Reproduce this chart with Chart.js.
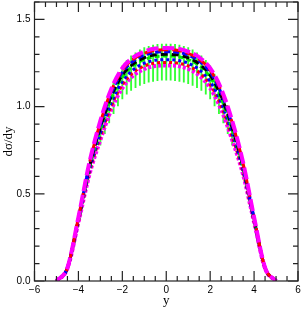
<!DOCTYPE html>
<html><head><meta charset="utf-8">
<script src="https://cdn.jsdelivr.net/npm/chart.js@4/dist/chart.umd.min.js"></script>
<style>html,body{margin:0;padding:0;background:#fff}#w{width:303px;height:309px}</style>
</head><body><div id="w"><canvas id="c" width="303" height="309"></canvas></div>
<script>
const xs = [-5,-4.5,-4,-3.5,-3,-2.5,-2,-1.5,-1,-0.5,0,0.5,1,1.5,2,2.5,3,3.5,4,4.5,5];
const magentaLongDash = [0,0.077,0.366,0.680,0.920,1.103,1.221,1.283,1.316,1.333,1.336,1.333,1.316,1.283,1.221,1.103,0.920,0.680,0.366,0.077,0];
const redLongDash     = [0,0.076,0.363,0.673,0.909,1.091,1.210,1.272,1.306,1.323,1.326,1.323,1.306,1.272,1.210,1.091,0.909,0.673,0.363,0.076,0];
const blueDash        = [0,0.076,0.360,0.666,0.897,1.078,1.197,1.261,1.295,1.312,1.315,1.312,1.295,1.261,1.197,1.078,0.897,0.666,0.360,0.076,0];
const blackDash       = [0,0.075,0.355,0.655,0.880,1.060,1.180,1.245,1.280,1.297,1.300,1.297,1.280,1.245,1.180,1.060,0.880,0.655,0.355,0.075,0];
const greenDash       = [0,0.075,0.352,0.648,0.869,1.048,1.169,1.235,1.270,1.287,1.290,1.287,1.270,1.235,1.169,1.048,0.869,0.648,0.352,0.075,0];
const blueDot         = [0,0.074,0.346,0.633,0.846,1.023,1.144,1.212,1.249,1.266,1.269,1.266,1.249,1.212,1.144,1.023,0.846,0.633,0.346,0.074,0];
const redDot          = [0,0.073,0.341,0.622,0.828,1.004,1.126,1.196,1.233,1.250,1.253,1.250,1.233,1.196,1.126,1.004,0.828,0.622,0.341,0.073,0];
const magentaDot      = [0,0.072,0.336,0.610,0.810,0.983,1.106,1.178,1.216,1.233,1.236,1.233,1.216,1.178,1.106,0.983,0.810,0.610,0.336,0.072,0];

const dataX   = [-3.0,-2.8,-2.6,-2.4,-2.2,-2.0,-1.8,-1.6,-1.4,-1.2,-1.0,-0.8,-0.6,-0.4,-0.2,0,0.2,0.4,0.6,0.8,1.0,1.2,1.4,1.6,1.8,2.0,2.2,2.4,2.6,2.8,3.0];
const dataY   = [0.849,0.922,0.989,1.047,1.095,1.139,1.168,1.192,1.209,1.223,1.235,1.243,1.249,1.253,1.255,1.255,1.255,1.253,1.249,1.243,1.235,1.223,1.209,1.192,1.168,1.139,1.095,1.047,0.989,0.922,0.849];
const dataErr = [0.070,0.077,0.082,0.087,0.091,0.095,0.097,0.099,0.100,0.102,0.103,0.103,0.104,0.104,0.104,0.104,0.104,0.104,0.104,0.103,0.103,0.102,0.100,0.099,0.097,0.095,0.091,0.087,0.082,0.077,0.070];

const xMajor = [-6,-4,-2,0,2,4,6];
const xMinor = [-5.5,-5,-4.5,-3.5,-3,-2.5,-1.5,-1,-0.5,0.5,1,1.5,2.5,3,3.5,4.5,5,5.5];
const yMajor = [0,0.5,1.0,1.5];
const yMinor = [0.1,0.2,0.3,0.4,0.6,0.7,0.8,0.9,1.1,1.2,1.3,1.4,1.6];

function line(vals, color, width, dash){
  return {type:'line', data: xs.map((x,i)=>({x:x,y:vals[i]})), borderColor:color, borderWidth:width,
    borderDash:dash, pointRadius:0, fill:false, cubicInterpolationMode:'monotone', order:1};
}

const framePlugin = {
  id:'frame',
  afterDatasetsDraw(chart){
    const {ctx, chartArea:a, scales:{x,y}} = chart;
    ctx.save();
    ctx.strokeStyle = '#222'; ctx.lineWidth = 1.2;
    ctx.strokeRect(a.left, a.top, a.right-a.left, a.bottom-a.top);
    ctx.beginPath();
    const tx = (v,len)=>{const p=x.getPixelForValue(v); ctx.moveTo(p,a.bottom); ctx.lineTo(p,a.bottom-len); ctx.moveTo(p,a.top); ctx.lineTo(p,a.top+len);};
    const ty = (v,len)=>{const p=y.getPixelForValue(v); ctx.moveTo(a.left,p); ctx.lineTo(a.left+len,p); ctx.moveTo(a.right,p); ctx.lineTo(a.right-len,p);};
    xMajor.forEach(v=>tx(v,10)); xMinor.forEach(v=>tx(v,5));
    yMajor.forEach(v=>ty(v,10)); yMinor.forEach(v=>ty(v,5));
    ctx.stroke();
    ctx.restore();
  }
};

new Chart(document.getElementById('c'), {
  type:'line',
  data:{datasets:[
    line(magentaLongDash,'#ff00ff',4,[12,4]),
    line(redLongDash,'#ff0000',3,[10,4]),
    line(blueDash,'#0000ff',3,[6,3]),
    line(blackDash,'#000000',3,[7,4]),
    line(greenDash,'#00ee00',3,[5,3]),
    line(blueDot,'#0000ff',3,[3,3]),
    line(redDot,'#ff0000',3,[3,3]),
    line(magentaDot,'#ff00ff',4,[3,2]),
    {type:'bar', data: dataX.map((x,i)=>({x:x, y:[dataY[i]-dataErr[i], dataY[i]+dataErr[i]]})),
      backgroundColor:'#33ff33', borderWidth:0, barThickness:1.2, order:10}
  ]},
  options:{
    responsive:false, animation:false, events:[],
    layout:{padding:{top:2,right:5,left:0,bottom:0}},
    plugins:{legend:{display:false}, tooltip:{enabled:false}},
    scales:{
      x:{type:'linear', min:-6, max:6, offset:false,
        grid:{display:false, drawTicks:false}, border:{display:false},
        afterBuildTicks:s=>{s.ticks = xMajor.map(v=>({value:v}));},
        afterFit:s=>{s.height = 28; s.paddingLeft = 0; s.paddingRight = 0;},
        ticks:{padding:3, color:'#000', font:{family:'Liberation Sans', size:10}, maxRotation:0, autoSkip:false,
          callback:v=>String(v).replace('-','\u2212')},
        title:{display:true, text:'y', color:'#000', padding:{top:0,bottom:1}, font:{family:'Liberation Serif', size:13}}
      },
      y:{type:'linear', min:0, max:1.6,
        grid:{display:false, drawTicks:false}, border:{display:false},
        afterBuildTicks:s=>{s.ticks = yMajor.map(v=>({value:v}));},
        afterFit:s=>{s.width = 34.5; s.paddingTop = 0; s.paddingBottom = 0;},
        ticks:{padding:4, color:'#000', font:{family:'Liberation Sans', size:10}, autoSkip:false,
          callback:v=>Number(v).toFixed(1)},
        title:{display:true, text:'dσ/dy', color:'#000', padding:{top:1,bottom:0}, font:{family:'Liberation Serif', size:13}}
      }
    }
  },
  plugins:[framePlugin]
});
</script></body></html>
